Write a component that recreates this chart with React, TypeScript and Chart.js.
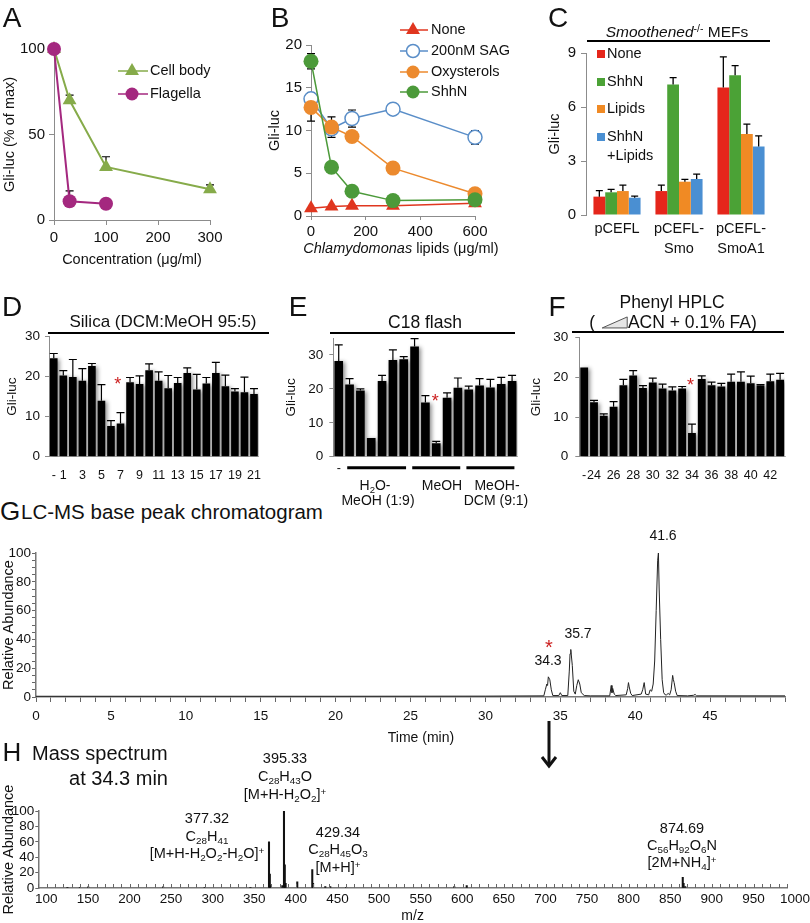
import React, { useEffect, useRef } from 'react';
import { Chart, registerables } from 'chart.js';

Chart.register(...registerables);

const FONT = "'Liberation Sans', Arial, Helvetica, sans-serif";
Chart.defaults.font.family = FONT;
Chart.defaults.color = '#111';

// ---------------- DATA ----------------
// Panel A
const aConc = [0, 30, 100, 300];
const aCellBody = [100, 70, 31, 18];
const aCellBodyErr = [0, 3, 6, 2.5];
const aFlagConc = [0, 30, 100];
const aFlagella = [100, 11, 9.5];
const aFlagellaErr = [0, 6, 0];

// Panel B
const bLipids = [0, 75, 150, 300, 600];
const bNone = [0.9, 1.1, 1.2, 1.2, 1.5];
const bSAG = [13.7, 10.2, 11.4, 12.5, 9.2];
const bSAGErr = [0.7, 0, 1.0, 0, 0.8];
const bOxy = [12.7, 10.4, 9.3, 5.6, 2.6];
const bOxyErr = [1.6, 1.2, 0, 0, 0];
const bShhN = [18.1, 5.7, 2.9, 1.8, 1.9];
const bShhNErr = [0.9, 0, 0, 0, 0];

// Panel C
const cConstructs = [['pCEFL'], ['pCEFL-', 'Smo'], ['pCEFL-', 'SmoA1']];
const cNone = [1.02, 1.33, 7.08];
const cNoneErr = [0.33, 0.33, 1.7];
const cShhN = [1.26, 7.25, 7.76];
const cShhNErr = [0.16, 0.38, 0.54];
const cLipids = [1.33, 1.85, 4.5];
const cLipidsErr = [0.33, 0.13, 0.55];
const cBoth = [0.96, 2.0, 3.8];
const cBothErr = [0.09, 0.27, 0.6];

// Panel D
const dFractions = ['-', '1', '2', '3', '4', '5', '6', '7', '8', '9', '10', '11', '12', '13', '14', '15', '16', '17', '18', '19', '20', '21'];
const dValues = [24.6, 20.3, 19.9, 19.0, 22.7, 14.0, 7.7, 8.3, 18.6, 18.2, 21.6, 19.0, 17.1, 18.4, 20.9, 16.8, 18.3, 20.9, 17.6, 16.3, 16.1, 15.7];
const dErr = [1.2, 1.2, 4.4, 3.0, 0.6, 4.0, 1.3, 2.7, 1.2, 2.0, 1.6, 2.2, 3.2, 1.4, 1.3, 3.8, 1.5, 2.7, 2.8, 0.7, 3.8, 1.3];

// Panel E
const eFractions = ['-', '1', '2', '3', '4', '5', '6', '7', '8', '9', '10', '11', '12', '13', '14', '15', '16'];
const eValues = [28.2, 21.3, 19.5, 5.5, 22.3, 28.5, 28.7, 32.5, 16.0, 4.0, 17.4, 20.3, 19.8, 21.0, 20.4, 21.4, 22.3];
const eErr = [4.8, 1.7, 0.5, 0, 1.7, 3.0, 0.8, 2.3, 2.0, 0.5, 1.4, 2.9, 1.0, 2.0, 2.4, 2.0, 1.7];

// Panel F
const fFractions = ['-', '24', '25', '26', '27', '28', '29', '30', '31', '32', '33', '34', '35', '36', '37', '38', '39', '40', '41', '42', '43'];
const fValues = [22.5, 13.7, 10.3, 12.6, 18.0, 20.5, 17.3, 18.7, 17.2, 16.7, 17.2, 6.0, 19.6, 18.0, 17.7, 18.9, 18.9, 18.5, 18.0, 19.0, 19.4];
const fErr = [0, 0.5, 0.5, 1.3, 1.5, 1.2, 0.6, 1.1, 1.1, 0.9, 0.5, 2.2, 0.8, 0.8, 0.8, 1.9, 2.5, 1.8, 0.2, 1.8, 1.6];

// Panel G (chromatogram)
const gTime = [0, 10, 20, 30, 33.9, 34.0, 34.1, 34.15, 34.2, 34.3, 34.4, 34.5, 34.9, 35.0, 35.1, 35.5, 35.6, 35.65, 35.7, 35.8, 35.9, 36.0, 36.1, 36.2, 36.3, 36.4, 36.6, 37.0, 38.3, 38.4, 38.45, 38.5, 38.6, 38.7, 39.4, 39.5, 39.55, 39.6, 39.7, 39.8, 40.4, 40.5, 40.6, 40.7, 40.9, 41.0, 41.1, 41.2, 41.3, 41.4, 41.5, 41.55, 41.6, 41.7, 41.8, 41.9, 42.0, 42.1, 42.2, 42.3, 42.4, 42.5, 42.55, 42.6, 42.7, 42.8, 43.5, 43.9, 44.0, 44.1, 50];
const gAbund = [0.5, 0.5, 0.5, 0.6, 0.8, 5, 9, 8, 14, 12, 5, 1, 1, 3, 1, 1, 18, 30, 33, 22, 4, 2, 8, 12, 9, 3, 1, 0.8, 0.8, 8, 3, 6, 2, 1, 1.5, 6, 10, 7, 2.5, 1, 2, 5, 10, 2, 1.5, 5, 4, 9, 25, 60, 95, 100, 75, 40, 12, 3, 1.5, 1.5, 2.5, 1.5, 5, 15, 12, 10, 4, 1, 0.8, 1.2, 1.8, 0.8, 0.8];

// Panel H (mass spectrum)
const hMz = [135, 150, 160, 250, 300, 355, 377.32, 378.3, 379.3, 393.3, 395.33, 396.3, 397.3, 411.3, 429.34, 430.3, 445, 451, 470, 600, 615, 874.69, 875.7, 877.7];
const hAbund = [1, 1, 1.5, 1.5, 1, 1, 60, 18, 3, 3, 100, 30, 6, 8, 24, 6, 2, 2, 1, 2, 3, 14, 6, 2];

// ---------------- COLOURS ----------------
const OLIVE = '#86ab4a';
const MAGENTA = '#a4287f';
const RED = '#e0361f';
const BLUE_B = '#5a8ec8';
const ORANGE = '#ec8a2e';
const GREEN_B = '#4c9a3a';
const C_RED = '#e5261b';
const C_GREEN = '#4ba236';
const C_ORANGE = '#f08a24';
const C_BLUE = '#4a8fd2';
const AX = '#8c8c8c';
const STAR = '#cc2020';

// ---------------- PLUGINS ----------------
function makeErr(when: string, cap: number, lw: number) {
  const draw = (chart: any) => {
    const ctx = chart.ctx;
    const ys = chart.scales.y;
    chart.data.datasets.forEach((ds: any, di: number) => {
      if (!ds.errPlus && !ds.errMinus) return;
      const meta = chart.getDatasetMeta(di);
      meta.data.forEach((el: any, i: number) => {
        const raw = ds.data[i];
        const v = typeof raw === 'number' ? raw : raw.y;
        const p = ds.errPlus ? ds.errPlus[i] : 0;
        const m = ds.errMinus ? ds.errMinus[i] : 0;
        const x = el.x;
        const y0 = ys.getPixelForValue(v);
        ctx.save();
        ctx.strokeStyle = '#000';
        ctx.lineWidth = lw;
        ctx.beginPath();
        if (p > 0) {
          const y1 = ys.getPixelForValue(v + p);
          ctx.moveTo(x, y0); ctx.lineTo(x, y1);
          ctx.moveTo(x - cap, y1); ctx.lineTo(x + cap, y1);
        }
        if (m > 0) {
          const y2 = ys.getPixelForValue(v - m);
          ctx.moveTo(x, y0); ctx.lineTo(x, y2);
          ctx.moveTo(x - cap, y2); ctx.lineTo(x + cap, y2);
        }
        ctx.stroke();
        ctx.restore();
      });
    });
  };
  return {
    id: 'errbars',
    beforeDatasetsDraw(c: any) { if (when === 'before') draw(c); },
    afterDatasetsDraw(c: any) { if (when === 'after') draw(c); },
  };
}

function drawShape(ctx: any, shape: string, x: number, y: number, r: number, color: string) {
  ctx.save();
  ctx.fillStyle = color;
  ctx.strokeStyle = color;
  if (shape === 'triangle') {
    ctx.beginPath();
    ctx.moveTo(x, y - r);
    ctx.lineTo(x + r * 0.866, y + r * 0.5);
    ctx.lineTo(x - r * 0.866, y + r * 0.5);
    ctx.closePath();
    ctx.fill();
  } else if (shape === 'circle') {
    ctx.beginPath(); ctx.arc(x, y, r, 0, Math.PI * 2); ctx.fill();
  } else if (shape === 'ring') {
    ctx.beginPath(); ctx.arc(x, y, r, 0, Math.PI * 2);
    ctx.fillStyle = '#fff'; ctx.fill(); ctx.lineWidth = 1.5; ctx.stroke();
  } else if (shape === 'square') {
    ctx.fillRect(x - r, y - r, 2 * r, 2 * r);
  }
  ctx.restore();
}

function makeLegend(items: any[], size: number) {
  return {
    id: 'customLegend',
    afterDraw(chart: any) {
      const ctx = chart.ctx;
      ctx.save();
      ctx.font = `${size}px ${FONT}`;
      ctx.textBaseline = 'middle';
      ctx.textAlign = 'left';
      for (const it of items) {
        if (it.line) {
          ctx.strokeStyle = it.color;
          ctx.lineWidth = 1.5;
          ctx.beginPath(); ctx.moveTo(it.line[0], it.y); ctx.lineTo(it.line[1], it.y); ctx.stroke();
        }
        if (it.shape) drawShape(ctx, it.shape, it.mx, it.y, it.r, it.color);
        ctx.fillStyle = '#111';
        ctx.fillText(it.text, it.tx, it.y);
      }
      ctx.restore();
    },
  };
}

function makeShadow() {
  return {
    id: 'barShadow',
    beforeDatasetsDraw(chart: any) {
      const c = chart.ctx;
      c.save();
      c.shadowColor = 'rgba(0,0,0,0.45)';
      c.shadowBlur = 4;
      c.shadowOffsetX = 2;
      c.shadowOffsetY = 1;
    },
    afterDatasetsDraw(chart: any) { chart.ctx.restore(); },
  };
}

function makeAnn(stars: any[], groups: any[] | null) {
  return {
    id: 'ann',
    afterDatasetsDraw(chart: any) {
      const ctx = chart.ctx;
      const xs = chart.scales.x, ys = chart.scales.y;
      ctx.save();
      for (const s of stars) {
        const size = 18;
        ctx.font = `${size}px ${FONT}`;
        ctx.fillStyle = STAR;
        ctx.textAlign = 'center';
        ctx.textBaseline = 'alphabetic';
        ctx.fillText('*', xs.getPixelForValue(s.i), ys.getPixelForValue(s.v) + size * 0.55);
      }
      if (groups) {
        const meta = chart.getDatasetMeta(0);
        ctx.strokeStyle = '#000';
        ctx.lineWidth = 3;
        for (const g of groups) {
          const e0 = meta.data[g[0]], e1 = meta.data[g[1]];
          const x0 = e0.x - e0.width / 2 + 2;
          const x1 = e1.x + e1.width / 2 - 2;
          const y = ys.bottom + 11;
          ctx.beginPath(); ctx.moveTo(x0, y); ctx.lineTo(x1, y); ctx.stroke();
        }
      }
      ctx.restore();
    },
  };
}

function makeInnerTicks(step: number) {
  return {
    id: 'innerTicks',
    afterDraw(chart: any) {
      const ctx = chart.ctx;
      const xs = chart.scales.x;
      ctx.save();
      ctx.strokeStyle = '#666';
      ctx.lineWidth = 1;
      ctx.beginPath();
      for (let v = xs.min; v <= xs.max + 0.001; v += step) {
        const x = Math.round(xs.getPixelForValue(v)) + 0.5;
        ctx.moveTo(x, xs.top);
        ctx.lineTo(x, xs.top - 4);
      }
      ctx.stroke();
      ctx.restore();
    },
  };
}

// ---------------- AXIS HELPERS ----------------
function base(cw: number, a: any, scales: any) {
  return {
    responsive: false,
    animation: false,
    events: [],
    layout: { padding: { left: 0, top: a.t, right: cw - a.r, bottom: 0 }, autoPadding: false },
    plugins: { legend: { display: false }, tooltip: { enabled: false }, title: { display: false } },
    scales,
  };
}

function axis(o: any) {
  const t: any = {
    afterFit: (s: any) => {
      if (o.width !== undefined) s.width = o.width;
      if (o.height !== undefined) s.height = o.height;
    },
    ticks: { font: { size: o.size }, padding: o.pad, color: '#111', autoSkip: false, maxRotation: 0, minRotation: 0 },
    grid: { display: o.tl > 0, drawOnChartArea: false, tickLength: o.tl || 0, color: o.tickColor || AX },
    border: { display: o.border !== false, color: o.borderColor || AX, width: o.bw || 1 },
    title: o.title
      ? { display: true, text: o.title, color: '#111', font: { size: o.titleSize, lineHeight: o.titleLH || 1.2 }, padding: { top: o.titlePad || 0, bottom: o.titleBottom !== undefined ? o.titleBottom : (o.titlePad || 0) } }
      : { display: false },
  };
  if (o.type) t.type = o.type;
  if (o.min !== undefined) t.min = o.min;
  if (o.max !== undefined) t.max = o.max;
  if (o.step !== undefined) t.ticks.stepSize = o.step;
  if (o.cb) t.ticks.callback = o.cb;
  if (o.includeBounds === false) t.ticks.includeBounds = false;
  if (o.lineHeight) t.ticks.font.lineHeight = o.lineHeight;
  if (o.labelOffset) t.ticks.labelOffset = o.labelOffset;
  if (o.offset === false) { t.offset = false; t.grid.offset = false; }
  return t;
}

// ---------------- CONFIGS ----------------
function configA() {
  const cw = 268, ch = 285, a = { l: 54, t: 49, r: 210, b: 220 };
  return {
    type: 'line',
    data: {
      datasets: [
        { data: aFlagConc.map((x, i) => ({ x, y: aFlagella[i] })), errPlus: aFlagellaErr, borderColor: MAGENTA, backgroundColor: MAGENTA, borderWidth: 2, pointStyle: 'circle', pointRadius: 7, pointBorderWidth: 0, clip: false },
        { data: aConc.map((x, i) => ({ x, y: aCellBody[i] })), errPlus: aCellBodyErr, borderColor: OLIVE, backgroundColor: OLIVE, borderWidth: 2, pointStyle: 'triangle', pointRadius: 8, pointBorderWidth: 0, clip: false },
      ],
    },
    options: base(cw, a, {
      x: axis({ type: 'linear', min: 0, max: 300, step: 100, height: ch - a.b, size: 15, tl: 5, pad: 4, title: 'Concentration (μg/ml)', titleSize: 14.5, titlePad: 0, titleBottom: 16 }),
      y: axis({ min: 0, max: 100, step: 50, width: a.l, size: 15, tl: 5, pad: 4, title: 'Gli-luc (% of max)', titleSize: 14.5, titlePad: 1 }),
    }),
    plugins: [
      makeErr('before', 4, 1.2),
      makeLegend([
        { text: 'Cell body', color: OLIVE, shape: 'triangle', r: 8, mx: 132, tx: 150, y: 71, line: [118, 148] },
        { text: 'Flagella', color: MAGENTA, shape: 'circle', r: 6.5, mx: 132, tx: 150, y: 94, line: [118, 148] },
      ], 14.5),
    ],
  };
}

function configB() {
  const cw = 275, ch = 285, a = { l: 46, t: 45, r: 210, b: 216 };
  const pts = (arr: number[]) => bLipids.map((x, i) => ({ x, y: arr[i] }));
  return {
    type: 'line',
    data: {
      datasets: [
        { data: pts(bShhN), errPlus: bShhNErr, errMinus: bShhNErr, borderColor: GREEN_B, backgroundColor: GREEN_B, borderWidth: 1.5, pointRadius: 7.5, pointBorderWidth: 0, clip: false },
        { data: pts(bOxy), errPlus: bOxyErr, errMinus: bOxyErr, borderColor: ORANGE, backgroundColor: ORANGE, borderWidth: 1.5, pointRadius: 7.5, pointBorderWidth: 0, clip: false },
        { data: pts(bSAG), errPlus: bSAGErr, errMinus: bSAGErr, borderColor: BLUE_B, backgroundColor: '#fff', borderWidth: 1.5, pointRadius: 7, pointBorderWidth: 1.5, clip: false },
        { data: pts(bNone), borderColor: RED, backgroundColor: RED, borderWidth: 1.5, pointStyle: 'triangle', pointRadius: 8, pointBorderWidth: 0, clip: false },
      ],
    },
    options: base(cw, a, {
      x: axis({ type: 'linear', min: 0, max: 600, step: 200, height: ch - a.b, size: 15, tl: 4, pad: 3 }),
      y: axis({ min: 0, max: 20, step: 5, width: a.l, size: 15, tl: 5, pad: 4, title: 'Gli-luc', titleSize: 14.5, titlePad: 1.5 }),
    }),
    plugins: [
      makeErr('before', 4, 1.2),
      makeLegend([
        { text: 'None', color: RED, shape: 'triangle', r: 8, mx: 148, tx: 166, y: 30, line: [135, 163] },
        { text: '200nM SAG', color: BLUE_B, shape: 'ring', r: 6.5, mx: 148, tx: 166, y: 51, line: [135, 163] },
        { text: 'Oxysterols', color: ORANGE, shape: 'circle', r: 6.5, mx: 148, tx: 166, y: 72, line: [135, 163] },
        { text: 'ShhN', color: GREEN_B, shape: 'circle', r: 6.5, mx: 148, tx: 166, y: 92, line: [135, 163] },
      ], 14.5),
    ],
  };
}

function configC() {
  const cw = 270, ch = 285, a = { l: 46, t: 53, r: 232, b: 215 };
  const mk = (data: number[], err: number[], color: string) => ({ data, errPlus: err, backgroundColor: color, barPercentage: 1, categoryPercentage: 0.76 });
  return {
    type: 'bar',
    data: {
      labels: cConstructs,
      datasets: [mk(cNone, cNoneErr, C_RED), mk(cShhN, cShhNErr, C_GREEN), mk(cLipids, cLipidsErr, C_ORANGE), mk(cBoth, cBothErr, C_BLUE)],
    },
    options: base(cw, a, {
      x: axis({ height: ch - a.b, size: 14.5, tl: 0, pad: 4, border: false, lineHeight: 1.4 }),
      y: axis({ min: 0, max: 9, step: 3, width: a.l, size: 15, tl: 5, pad: 5, title: 'Gli-luc', titleSize: 14.5, titlePad: 6.3 }),
    }),
    plugins: [
      makeErr('after', 3.5, 1.3),
      makeLegend([
        { text: 'None', color: C_RED, shape: 'square', r: 4, mx: 61, tx: 67, y: 54 },
        { text: 'ShhN', color: C_GREEN, shape: 'square', r: 4, mx: 61, tx: 67, y: 82 },
        { text: 'Lipids', color: C_ORANGE, shape: 'square', r: 4, mx: 61, tx: 67, y: 109 },
        { text: 'ShhN', color: C_BLUE, shape: 'square', r: 4, mx: 61, tx: 67, y: 137 },
        { text: '+Lipids', color: C_BLUE, tx: 67, y: 156 },
      ], 14.5),
    ],
  };
}

function configFrac(opts: any) {
  const { cw, ch, a, labels, values, err, ymax, cb, xpad, star, groups } = opts;
  return {
    type: 'bar',
    data: {
      labels,
      datasets: [{ data: values, errPlus: err, backgroundColor: '#000', barPercentage: 0.8, categoryPercentage: 1 }],
    },
    options: base(cw, a, {
      x: axis({ height: ch - a.b, size: 12.5, tl: 0, pad: xpad, borderColor: '#bbb', cb }),
      y: axis({ min: 0, max: ymax, step: 10, width: a.l, size: 13.5, tl: 4, pad: opts.ypad, includeBounds: false, title: 'Gli-luc', titleSize: 13.5, titlePad: opts.titlePad }),
    }),
    plugins: [makeShadow(), makeErr('after', 4, 1.2), makeAnn([star], groups)],
  };
}

function configD() {
  return configFrac({
    cw: 272, ch: 200, a: { l: 49, t: 46.7, r: 269, b: 166.7 },
    labels: dFractions, values: dValues, err: dErr, ymax: 30, xpad: 11, ypad: 5, titlePad: 4,
    cb: (v: any, i: number) => { const l = dFractions[i]; return l === '-' || Number(l) % 2 === 1 ? l : ''; },
    star: { i: 6.7, v: 19.2 }, groups: null,
  });
}

function configE() {
  return configFrac({
    cw: 258, ch: 200, a: { l: 63.3, t: 48, r: 247.5, b: 166.7 },
    labels: eFractions, values: eValues, err: eErr, ymax: 35, xpad: 4, ypad: 6, titlePad: 13.5,
    cb: (v: any, i: number) => (i === 0 ? '-' : ''),
    star: { i: 8.9, v: 17.7 }, groups: [[1, 6], [7, 11], [12, 16]],
  });
}

function configF() {
  return configFrac({
    cw: 282, ch: 200, a: { l: 51.3, t: 47.7, r: 257, b: 166.7 },
    labels: fFractions, values: fValues, err: fErr, ymax: 30, xpad: 11, ypad: 7, titlePad: 0.5,
    cb: (v: any, i: number) => { const l = fFractions[i]; return l === '-' || Number(l) % 2 === 0 ? l : ''; },
    star: { i: 10.85, v: 19.1 }, groups: null,
  });
}

function configG() {
  const cw = 810, ch = 205, a = { l: 36, t: 13, r: 785, b: 157 };
  return {
    type: 'line',
    data: { datasets: [{ data: gTime.map((t, i) => ({ x: t, y: gAbund[i] })), borderColor: '#222', borderWidth: 1, pointRadius: 0, tension: 0 }] },
    options: base(cw, a, {
      x: axis({ type: 'linear', min: 0, max: 50, step: 1, height: ch - a.b, size: 13.5, tl: 5, pad: 6, tickColor: '#666', borderColor: '#777', bw: 1.5, cb: (v: number) => (v % 5 === 0 && v < 50 ? String(v) : '') }),
      y: axis({ min: 0, max: 100, step: 5, width: a.l, size: 13.5, tl: 4, pad: 1, tickColor: '#666', borderColor: '#777', bw: 1.5, cb: (v: number) => (v % 20 === 0 ? String(v) : ''), title: 'Relative Abundance', titleSize: 14.5, titlePad: 0 }),
    }),
    plugins: [],
  };
}

function configH() {
  const cw = 810, ch = 148, a = { l: 38.3, t: 36, r: 787, b: 113 };
  return {
    type: 'bar',
    data: { datasets: [{ data: hMz.map((m, i) => ({ x: m, y: hAbund[i] })), backgroundColor: '#111', barThickness: 1.4 }] },
    options: base(cw, a, {
      x: axis({ type: 'linear', min: 100, max: 1000, step: 50, offset: false, labelOffset: 8, height: ch - a.b, size: 13.5, tl: 0, pad: 3, borderColor: '#777', bw: 1.5, cb: (v: number) => String(v), title: 'm/z', titleSize: 14, titleLH: 1, titlePad: 0 }),
      y: axis({ min: 0, max: 100, step: 20, width: a.l, size: 13.5, tl: 3, pad: 1, tickColor: '#666', borderColor: '#777', bw: 1.5, title: 'Relative Abundance', titleSize: 14.5, titlePad: 0 }),
    }),
    plugins: [makeInnerTicks(10)],
  };
}

// ---------------- COMPONENTS ----------------
function ChartBox({ x, y, w, h, make }: any) {
  const ref = useRef<HTMLCanvasElement>(null);
  useEffect(() => {
    const chart = new Chart(ref.current as any, make());
    return () => chart.destroy();
  }, []);
  return <canvas ref={ref} width={w} height={h} style={{ position: 'absolute', left: x, top: y, width: w, height: h }} />;
}

function Txt({ x, y, size = 14, align = 'center', children, style }: any) {
  const tx = align === 'center' ? '-50%' : align === 'right' ? '-100%' : '0';
  return (
    <div style={{ position: 'absolute', left: x, top: y, transform: `translate(${tx}, -50%)`, fontSize: size, lineHeight: 1.15, whiteSpace: 'nowrap', color: '#111', ...style }}>
      {children}
    </div>
  );
}

const Sub = ({ children }: any) => <span style={{ fontSize: '0.68em', position: 'relative', top: '0.32em' }}>{children}</span>;
const Sup = ({ children }: any) => <span style={{ fontSize: '0.68em', position: 'relative', top: '-0.45em' }}>{children}</span>;

const Bar = ({ x, y, w, h = 2 }: any) => <div style={{ position: 'absolute', left: x, top: y, width: w, height: h, background: '#000' }} />;

export default function App() {
  return (
    <div style={{ position: 'fixed', left: 0, top: 0, width: 810, height: 923, background: '#fff', overflow: 'hidden', fontFamily: FONT, color: '#111' }}>
      <ChartBox x={0} y={0} w={268} h={285} make={configA} />
      <ChartBox x={265} y={0} w={275} h={285} make={configB} />
      <ChartBox x={540} y={0} w={270} h={285} make={configC} />
      <ChartBox x={0} y={290} w={272} h={200} make={configD} />
      <ChartBox x={270} y={290} w={258} h={200} make={configE} />
      <ChartBox x={528} y={290} w={282} h={200} make={configF} />
      <ChartBox x={0} y={540} w={810} h={205} make={configG} />
      <ChartBox x={0} y={775} w={810} h={148} make={configH} />

      {/* panel letters */}
      <Txt x={12} y={18} size={28}>A</Txt>
      <Txt x={280} y={18} size={28}>B</Txt>
      <Txt x={558} y={18} size={28}>C</Txt>
      <Txt x={12} y={307} size={28}>D</Txt>
      <Txt x={298} y={307} size={28}>E</Txt>
      <Txt x={557} y={307} size={28}>F</Txt>
      <Txt x={10} y={512} size={26}>G</Txt>
      <Txt x={12} y={753} size={26}>H</Txt>

      {/* B axis title */}
      <Txt x={401} y={248} size={14.5}><i>Chlamydomonas</i> lipids (μg/ml)</Txt>

      {/* C header */}
      <Txt x={677} y={32} size={15.5}><i>Smoothened</i><Sup>-/-</Sup> MEFs</Txt>
      <Bar x={587} y={40} w={183} />

      {/* D header */}
      <Txt x={163} y={322} size={17}>Silica (DCM:MeOH 95:5)</Txt>
      <Bar x={48} y={332} w={221} />

      {/* E header + groups */}
      <Txt x={425} y={322} size={17.5}>C18 flash</Txt>
      <Bar x={330} y={332} w={185} />
      <Txt x={375} y={485} size={14}>H<Sub>2</Sub>O-</Txt>
      <Txt x={378} y={500} size={14}>MeOH (1:9)</Txt>
      <Txt x={442} y={485} size={14}>MeOH</Txt>
      <Txt x={497} y={485} size={14}>MeOH-</Txt>
      <Txt x={496} y={500} size={14}>DCM (9:1)</Txt>

      {/* F header */}
      <Txt x={672} y={302} size={17.5}>Phenyl HPLC</Txt>
      <Txt x={673} y={322} size={17.5}>
        (&nbsp;
        <svg width="28" height="13" style={{ verticalAlign: '-1px' }}>
          <polygon points="2,12 27,12 27,1" fill="#e6e6e6" stroke="#555" strokeWidth="1" />
        </svg>
        ACN + 0.1% FA)
      </Txt>
      <Bar x={572} y={331} w={212} />

      {/* G header and annotations */}
      <Txt x={21} y={512} size={20.5} align="left">LC-MS base peak chromatogram</Txt>
      <Txt x={421} y={737} size={14}>Time (min)</Txt>
      <Txt x={663} y={535} size={14}>41.6</Txt>
      <Txt x={578} y={633} size={14}>35.7</Txt>
      <Txt x={548} y={660} size={14}>34.3</Txt>
      <Txt x={549} y={647} size={20} style={{ color: STAR }}>*</Txt>

      {/* arrow */}
      <svg width="20" height="54" style={{ position: 'absolute', left: 539, top: 719 }}>
        <line x1="10" y1="2" x2="10" y2="46" stroke="#111" strokeWidth="3" />
        <polyline points="3,38 10,47 17,38" fill="none" stroke="#111" strokeWidth="3" />
      </svg>

      {/* H header and annotations */}
      <Txt x={32} y={753} size={20} align="left">Mass spectrum</Txt>
      <Txt x={168} y={778} size={20} align="right">at 34.3 min</Txt>

      <Txt x={285} y={758} size={14.5}>395.33</Txt>
      <Txt x={285} y={776} size={14.5}>C<Sub>28</Sub>H<Sub>43</Sub>O</Txt>
      <Txt x={285} y={794} size={14.5}>[M+H-H<Sub>2</Sub>O<Sub>2</Sub>]<Sup>+</Sup></Txt>

      <Txt x={207} y={818} size={14.5}>377.32</Txt>
      <Txt x={207} y={836} size={14.5}>C<Sub>28</Sub>H<Sub>41</Sub></Txt>
      <Txt x={207} y={853} size={14.5}>[M+H-H<Sub>2</Sub>O<Sub>2</Sub>-H<Sub>2</Sub>O]<Sup>+</Sup></Txt>

      <Txt x={338} y={832} size={14.5}>429.34</Txt>
      <Txt x={338} y={849} size={14.5}>C<Sub>28</Sub>H<Sub>45</Sub>O<Sub>3</Sub></Txt>
      <Txt x={338} y={867} size={14.5}>[M+H]<Sup>+</Sup></Txt>

      <Txt x={682} y={828} size={14.5}>874.69</Txt>
      <Txt x={682} y={845} size={14.5}>C<Sub>56</Sub>H<Sub>92</Sub>O<Sub>6</Sub>N</Txt>
      <Txt x={682} y={862} size={14.5}>[2M+NH<Sub>4</Sub>]<Sup>+</Sup></Txt>
    </div>
  );
}
